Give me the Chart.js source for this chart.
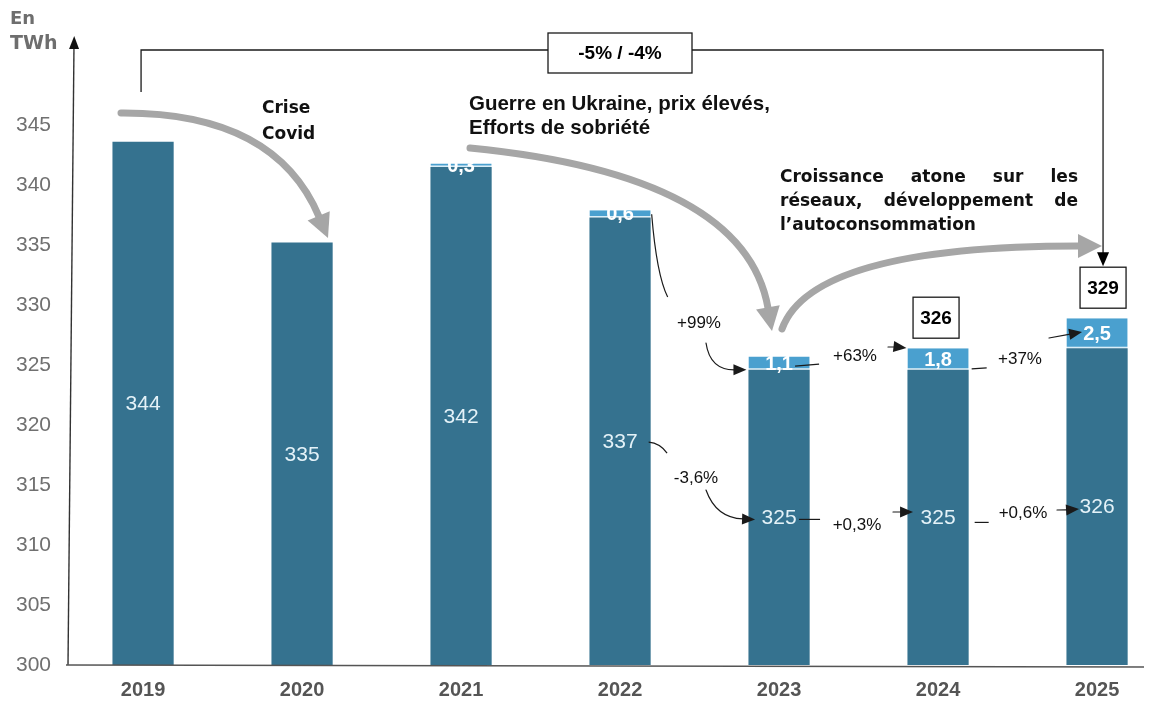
<!DOCTYPE html>
<html lang="fr">
<head>
<meta charset="utf-8">
<title>Consommation d'électricité en TWh</title>
<script src="https://cdn.jsdelivr.net/npm/chart.js@4.4.1/dist/chart.umd.min.js"></script>
<style>
  html, body { margin: 0; padding: 0; background: #ffffff; }
  #wrap { position: relative; width: 1163px; height: 702px; }
  canvas { display: block; }
</style>
</head>
<body>
<div id="wrap"><canvas id="chart" width="1163" height="702"></canvas></div>
<script>
// Annual consumption, in TWh
const years = [2019, 2020, 2021, 2022, 2023, 2024, 2025];
const gridConsumption = [343.6, 335.2, 341.5, 337.3, 324.6, 324.6, 326.4];
const selfConsumption = [null, null, 0.3, 0.6, 1.1, 1.8, 2.5];
const yTickValues = [300, 305, 310, 315, 320, 325, 330, 335, 340, 345];

// Year-on-year changes written between the bars
const gridGrowth = ['-3,6%', '+0,3%', '+0,6%'];
const selfGrowth = ['+99%', '+63%', '+37%'];
const overallChange = '-5% / -4%';
const boxedYears = [2024, 2025];

// Captions
const unitLines = ['En', 'TWh'];
const covidLines = ['Crise', 'Covid'];
const ukraineLines = ['Guerre en Ukraine, prix élevés,', 'Efforts de sobriété'];
const outlookLines = ['Croissance atone  sur les', 'réseaux, développement de', 'l’autoconsommation'];

const DARK = '#35728f';
const LIGHT = '#4aa0cf';
const ARROW_GREY = '#a6a6a6';
const INK = '#1a1a1a';
const SANS = "'Liberation Sans', Arial, sans-serif";
const WIDE = "'DejaVu Sans', Verdana, sans-serif";

const fmtComma = v => v.toFixed(1).replace('.', ',');

function arrowHead(ctx, tx, ty, ang, len, half, color) {
  ctx.save();
  ctx.fillStyle = color;
  ctx.beginPath();
  ctx.moveTo(tx, ty);
  ctx.lineTo(tx - len * Math.cos(ang) - half * Math.sin(ang), ty - len * Math.sin(ang) + half * Math.cos(ang));
  ctx.lineTo(tx - len * Math.cos(ang) + half * Math.sin(ang), ty - len * Math.sin(ang) - half * Math.cos(ang));
  ctx.closePath();
  ctx.fill();
  ctx.restore();
}

// quadratic curve ending in a filled arrow head at (tx, ty)
function curvedArrow(ctx, sx, sy, cx, cy, tx, ty, width, color, len, half) {
  const ang = Math.atan2(ty - cy, tx - cx);
  const bx = tx - (len - 1) * Math.cos(ang);
  const by = ty - (len - 1) * Math.sin(ang);
  ctx.save();
  ctx.strokeStyle = color;
  ctx.lineWidth = width;
  ctx.lineCap = 'round';
  ctx.beginPath();
  ctx.moveTo(sx, sy);
  ctx.quadraticCurveTo(cx, cy, bx, by);
  ctx.stroke();
  ctx.restore();
  arrowHead(ctx, tx, ty, ang, len, half, color);
}

function curve(ctx, sx, sy, cx, cy, ex, ey) {
  ctx.save();
  ctx.strokeStyle = INK;
  ctx.lineWidth = 1.2;
  ctx.beginPath();
  ctx.moveTo(sx, sy);
  ctx.quadraticCurveTo(cx, cy, ex, ey);
  ctx.stroke();
  ctx.restore();
}

function line(ctx, x1, y1, x2, y2, width, color) {
  ctx.save();
  ctx.strokeStyle = color;
  ctx.lineWidth = width;
  ctx.beginPath();
  ctx.moveTo(x1, y1);
  ctx.lineTo(x2, y2);
  ctx.stroke();
  ctx.restore();
}

function text(ctx, str, x, y, font, color, align) {
  ctx.save();
  ctx.font = font;
  ctx.fillStyle = color;
  ctx.textAlign = align || 'center';
  ctx.textBaseline = 'middle';
  ctx.fillText(str, x, y);
  ctx.restore();
}

function boxedText(ctx, str, cx, cy, w, h, font) {
  ctx.save();
  ctx.fillStyle = '#ffffff';
  ctx.fillRect(cx - w / 2, cy - h / 2, w, h);
  ctx.strokeStyle = INK;
  ctx.lineWidth = 1.3;
  ctx.strokeRect(cx - w / 2, cy - h / 2, w, h);
  ctx.restore();
  text(ctx, str, cx, cy + 1, font, '#000000');
}

function justified(ctx, str, x0, x1, y, font, color, last) {
  ctx.save();
  ctx.font = font;
  ctx.fillStyle = color;
  ctx.textBaseline = 'middle';
  ctx.textAlign = 'left';
  const words = str.split(/\s+/);
  if (last || words.length < 2) {
    ctx.fillText(str, x0, y);
  } else {
    const total = words.reduce((s, w) => s + ctx.measureText(w).width, 0);
    const gap = (x1 - x0 - total) / (words.length - 1);
    let x = x0;
    words.forEach(w => { ctx.fillText(w, x, y); x += ctx.measureText(w).width + gap; });
  }
  ctx.restore();
}

const annotations = {
  id: 'annotations',
  afterDatasetsDraw(chart) {
    const ctx = chart.ctx;
    const area = chart.chartArea;
    const dark = chart.getDatasetMeta(0).data;
    const light = chart.getDatasetMeta(1).data;
    const lightByYear = {};
    chart.data.datasets[1].data.forEach((p, k) => { lightByYear[p.x] = light[k]; });
    // visible middle of a dark bar (its base lies below the axis minimum)
    const midOf = bar => (bar.y + Math.min(bar.base, area.bottom)) / 2;

    // axes: slightly slanted value axis with arrow, base line
    line(ctx, area.left + 3, area.bottom, area.left + 9, 44, 1.4, '#333');
    arrowHead(ctx, area.left + 9.2, 36, -Math.PI / 2 + 0.01, 13, 5, '#111');
    line(ctx, area.left + 1, area.bottom, area.right - 6, area.bottom + 2, 1.6, '#555');

    // values inside the dark bars
    dark.forEach((bar, i) => {
      text(ctx, String(Math.round(gridConsumption[i])), bar.x, midOf(bar) + 1, `21px ${SANS}`, '#e4f2f8');
    });

    // self-consumption values centred on their light segment
    years.forEach((yr, i) => {
      const seg = lightByYear[yr];
      if (!seg) return;
      text(ctx, fmtComma(selfConsumption[i]), seg.x, (seg.y + seg.base) / 2 + 1, `bold 20px ${SANS}`, '#ffffff');
    });

    // totals above the last two bars
    const totalBoxes = {};
    boxedYears.forEach(yr => {
      const i = years.indexOf(yr);
      const seg = lightByYear[yr];
      const total = gridConsumption[i] + (selfConsumption[i] || 0);
      const cx = dark[i].x + (i === years.length - 1 ? 6 : -2);
      const cy = seg.y - 10 - 20.5;
      totalBoxes[yr] = { cx, top: cy - 20.5 };
      boxedText(ctx, String(Math.round(total)), cx, cy, 46, 41, `bold 19px ${SANS}`);
    });

    // overall change bracket from 2019 to 2025
    const bx0 = dark[0].x - 2;
    const last = totalBoxes[2025];
    const by = 50;
    ctx.save();
    ctx.strokeStyle = INK;
    ctx.lineWidth = 1.3;
    ctx.beginPath();
    ctx.moveTo(bx0, 92);
    ctx.lineTo(bx0, by);
    ctx.lineTo(last.cx, by);
    ctx.lineTo(last.cx, last.top - 12);
    ctx.stroke();
    ctx.restore();
    arrowHead(ctx, last.cx, last.top - 1, Math.PI / 2, 14, 6, '#000');
    boxedText(ctx, overallChange, 620, 53, 144, 40, `bold 19px ${SANS}`);

    // captions
    text(ctx, unitLines[0], 10, 19, `bold 18px ${WIDE}`, '#6e6e6e', 'left');
    text(ctx, unitLines[1], 10, 44, `bold 19px ${WIDE}`, '#6e6e6e', 'left');
    text(ctx, covidLines[0], 262, 109, `bold 17px ${WIDE}`, '#111', 'left');
    text(ctx, covidLines[1], 262, 135, `bold 17px ${WIDE}`, '#111', 'left');
    text(ctx, ukraineLines[0], 469, 104, `bold 20.5px ${SANS}`, '#111', 'left');
    text(ctx, ukraineLines[1], 469, 128, `bold 20.5px ${SANS}`, '#111', 'left');
    outlookLines.forEach((l, k) => {
      justified(ctx, l, 780, 1078, 178 + k * 24, `bold 17px ${WIDE}`, '#111', k === outlookLines.length - 1);
    });

    // grey trend arrows
    curvedArrow(ctx, 121, 113, 275, 112, 328, 238, 7, ARROW_GREY, 24, 12);
    curvedArrow(ctx, 470, 148, 745, 175, 772, 331, 7, ARROW_GREY, 24, 12);
    curvedArrow(ctx, 782, 329, 812, 246, 1102, 246, 7, ARROW_GREY, 24, 12);

    // self-consumption growth arrows
    const s22 = lightByYear[2022], s23 = lightByYear[2023], s24 = lightByYear[2024], s25 = lightByYear[2025];
    const right22 = s22.x + s22.width / 2;
    curve(ctx, right22 + 1, s22.y + 4, right22 + 6, 275, right22 + 17, 297);
    text(ctx, selfGrowth[0], 699, 323, `17px ${SANS}`, '#111');
    curvedArrow(ctx, 706, 343, 710, 370, s23.x - s23.width / 2 - 2, s23.base, 1.2, INK, 13, 5.5);

    line(ctx, s23.x + 16, (s23.y + s23.base) / 2 + 3, s23.x + 40, (s23.y + s23.base) / 2 + 1, 1.2, INK);
    text(ctx, selfGrowth[1], 855, 356, `17px ${SANS}`, '#111');
    curvedArrow(ctx, 888, 347, 898, 347, s24.x - s24.width / 2 - 1, 348, 1.2, INK, 13, 5.5);

    line(ctx, s24.x + s24.width / 2 + 3, s24.base - 1, s24.x + s24.width / 2 + 18, s24.base - 2, 1.2, INK);
    text(ctx, selfGrowth[2], 1020, 359, `17px ${SANS}`, '#111');
    curvedArrow(ctx, 1049, 338, 1065, 335, s25.x - 15, 332, 1.2, INK, 13, 5.5);

    // grid consumption growth arrows
    const d22 = dark[3], d23 = dark[4], d24 = dark[5], d25 = dark[6];
    const mid22 = midOf(d22);
    const mid23 = midOf(d23);
    const mid24 = midOf(d24);
    curve(ctx, d22.x + d22.width / 2 - 2, mid22 + 1, d22.x + 40, mid22 + 2, d22.x + 47, mid22 + 12);
    text(ctx, gridGrowth[0], 696, 478, `17px ${SANS}`, '#111');
    curvedArrow(ctx, 706, 490, 716, 518, d23.x - 24, mid23 + 2, 1.2, INK, 13, 5.5);

    line(ctx, d23.x + 20, mid23 + 2, d23.x + 41, mid23 + 2, 1.2, INK);
    text(ctx, gridGrowth[1], 857, 525, `17px ${SANS}`, '#111');
    curvedArrow(ctx, 893, 512, 900, 512, d24.x - 25, 512, 1.2, INK, 13, 5.5);

    line(ctx, d24.x + d24.width / 2 + 6, mid24 + 5, d24.x + d24.width / 2 + 20, mid24 + 5, 1.2, INK);
    text(ctx, gridGrowth[2], 1023, 513, `17px ${SANS}`, '#111');
    curvedArrow(ctx, 1057, 510, 1066, 510, d25.x - 18, 509, 1.2, INK, 13, 5.5);
  }
};

const barShape = { barPercentage: 0.385, categoryPercentage: 1 };

new Chart(document.getElementById('chart'), {
  type: 'bar',
  data: {
    datasets: [
      Object.assign({
        label: 'Consommation réseau',
        data: years.map((yr, i) => ({ x: yr, y: gridConsumption[i] })),
        backgroundColor: DARK,
        borderWidth: 0
      }, barShape),
      Object.assign({
        label: 'Autoconsommation',
        data: years.map((yr, i) => ({ x: yr, y: selfConsumption[i] })).filter(p => p.y !== null),
        backgroundColor: LIGHT,
        borderColor: '#d9eef8',
        borderWidth: { bottom: 1.5, top: 0, left: 0, right: 0 },
        borderSkipped: false
      }, barShape)
    ]
  },
  options: {
    responsive: false,
    animation: false,
    devicePixelRatio: 1,
    layout: { padding: { top: 65, right: 13, left: 0, bottom: 0 } },
    plugins: { legend: { display: false }, tooltip: { enabled: false } },
    scales: {
      x: {
        type: 'linear',
        offset: false,
        bounds: 'data',
        min: 2018.509,
        max: 2025.333,
        stacked: true,
        afterFit: s => { s.height = 37; },
        afterBuildTicks: s => { s.ticks = years.map(v => ({ value: v })); },
        grid: { display: false, drawTicks: false, offset: false },
        border: { display: false },
        ticks: {
          padding: 13,
          color: '#555555',
          font: { family: SANS, size: 20, weight: 'bold' },
          callback: v => String(v)
        }
      },
      y: {
        min: 300,
        max: 350,
        stacked: true,
        afterFit: s => { s.width = 65; },
        afterBuildTicks: s => { s.ticks = yTickValues.map(v => ({ value: v })); },
        grid: { display: false, drawTicks: false },
        border: { display: false },
        ticks: {
          padding: 14,
          color: '#707070',
          font: { family: SANS, size: 21 },
          callback: v => String(v)
        }
      }
    }
  },
  plugins: [annotations]
});
</script>
</body>
</html>
